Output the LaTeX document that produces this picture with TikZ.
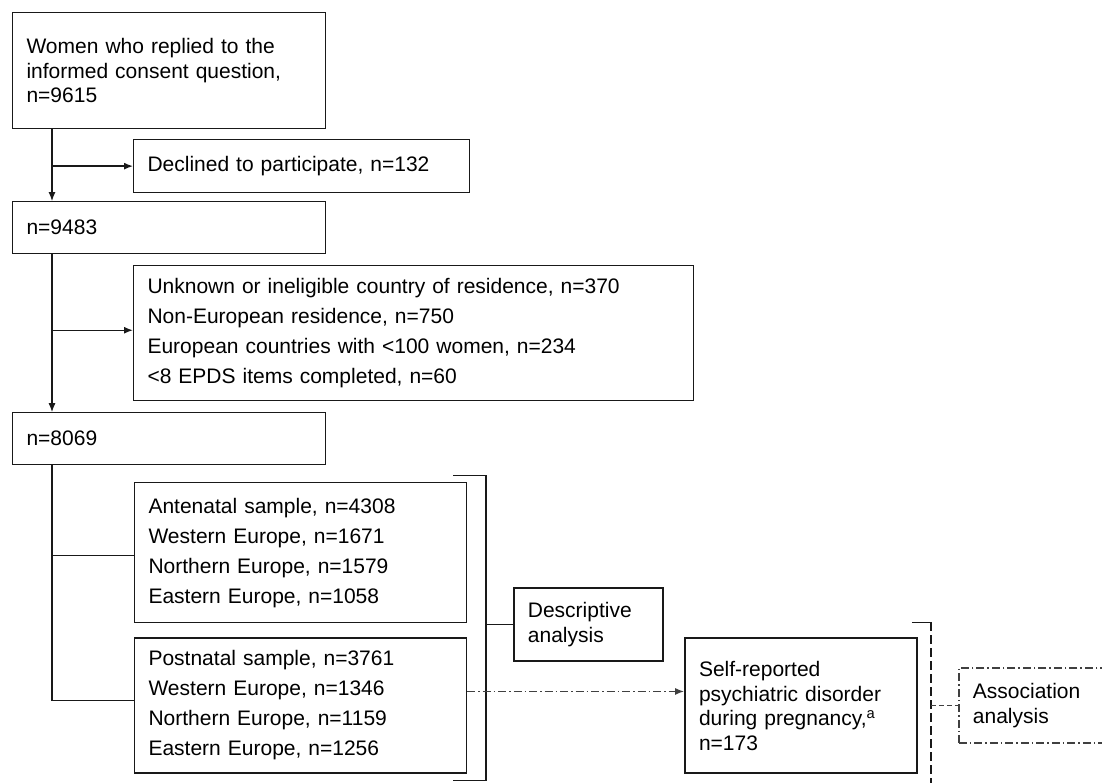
\documentclass[tikz,border=0pt]{standalone}
\usepackage{fontspec}
\setmainfont{Liberation Sans}
\usetikzlibrary{positioning, arrows.meta}
\definecolor{inkline}{rgb}{0.1,0.1,0.1}
\definecolor{inkdash}{rgb}{0.25,0.25,0.25}
\tikzset{
	flowbox/.style={draw=inkline, rectangle, line width=1.1pt, align=left, inner xsep=14pt, inner ysep=0pt, font=\fontsize{21}{24.5}\selectfont},
	widelines/.style={font=\fontsize{21}{30}\selectfont},
	heavybox/.style={line width=1.8pt},
	dashdotline/.style={draw=inkdash, line width=1.3pt, dash pattern=on 8pt off 3pt on 1.5pt off 3pt},
	feed/.style={-{Latex[length=9pt, width=7pt]}, line width=1.3pt, draw=inkline}
}
\begin{document}
\begin{tikzpicture}[x=1pt, y=-1pt, node distance = 10pt and 10pt]
			 \useasboundingbox (0,0) rectangle (1102,783);
			 \clip (0,0) rectangle (1102,783);
			 \node [flowbox, anchor=north west, text width=285pt, minimum height=116pt] (consent) at (12,12) {Women who replied to the\\informed consent question,\\n=9615};
			 \node [flowbox, text width=308pt, minimum height=53pt] (declined) [below right=10pt and 121pt of consent.south west] {Declined to participate, n=132};
			 \node [flowbox, text width=285pt, minimum height=52pt] (n9483) [below right=72pt and 0pt of consent.south west] {n=9483};
			 \node [flowbox, widelines, text width=532pt, minimum height=135pt] (excluded) [below right=11pt and 121pt of n9483.south west] {Unknown or ineligible country of residence, n=370\\Non-European residence, n=750\\European countries with <100 women, n=234\\<8 EPDS items completed, n=60};
			 \node [flowbox, text width=285pt, minimum height=52pt] (n8069) [below right=158pt and 0pt of n9483.south west] {n=8069};
			 \node [flowbox, widelines, text width=304pt, minimum height=140pt] (antenatal) [below right=17pt and 122pt of n8069.south west] {Antenatal sample, n=4308\\Western Europe, n=1671\\Northern Europe, n=1579\\Eastern Europe, n=1058};
			 \node [flowbox, widelines, text width=304pt, minimum height=135pt] (postnatal) [below right=14pt and 0pt of antenatal.south west] {Postnatal sample, n=3761\\Western Europe, n=1346\\Northern Europe, n=1159\\Eastern Europe, n=1256};
			 \node [flowbox, heavybox, anchor=north west, text width=121pt, minimum height=73pt] (descriptive) at (513,587) {Descriptive\\analysis};
			 \node [flowbox, heavybox, text width=204pt, minimum height=135pt] (selfrep) [below right=0pt and 217pt of postnatal.north east] {Self-reported\\psychiatric disorder\\during pregnancy,\textsuperscript{a}\\n=173};
			 \node [flowbox, dashdotline, line width=1.8pt, anchor=north west, text width=172pt, minimum height=75pt] (association) at (958,667) {Association\\analysis};
			 \coordinate (spine1) at ([xshift=40pt]consent.south west);
			 \coordinate (spine2) at ([xshift=40pt]n9483.south west);
			 \coordinate (spine3) at ([xshift=40pt]n8069.south west);
			 \draw [feed] (spine1) -- (spine1 |- n9483.north);
			 \draw [feed] (spine1 |- declined.west) -- (declined.west);
			 \draw [feed] (spine2) -- (spine2 |- n8069.north);
			 \draw [feed] ([yshift=3pt]spine2 |- excluded.west) -- ([yshift=3pt]excluded.west);
			 \draw [inkline, line width=1.1pt] (spine3) |- ([yshift=5pt]postnatal.west);
			 \draw [inkline, line width=1.1pt] ([yshift=-3pt]spine3 |- antenatal.west) -- ([yshift=-3pt]antenatal.west);
			 \coordinate (brtop) at ([xshift=19pt, yshift=7pt]antenatal.north east);
			 \coordinate (brbot) at ([xshift=19pt, yshift=-7pt]postnatal.south east);
			 \draw [inkline, line width=1.6pt] ([xshift=-33pt]brtop) -- (brtop) -- (brbot) -- ([xshift=-33pt]brbot);
			 \draw [inkline, line width=1.1pt] (brtop |- descriptive.west) -- (descriptive.west);
			 \draw [dashdotline, -{Latex[length=9pt, width=7pt]}] ([yshift=14pt]postnatal.east) -- ([yshift=14pt]postnatal.east -| selfrep.west);
			 \coordinate (dbrtop) at ([xshift=13pt, yshift=15pt]selfrep.north east);
			 \draw [inkline, line width=1.6pt] ([xshift=-19pt]dbrtop) -- (dbrtop);
			 \draw [inkline, line width=2pt, dash pattern=on 9pt off 4pt] (dbrtop) -- ++(0,180);
			 \draw [inkdash, line width=1.1pt, dash pattern=on 5pt off 3pt] (dbrtop |- association.west) -- (association.west);
		\end{tikzpicture}
\end{document}
